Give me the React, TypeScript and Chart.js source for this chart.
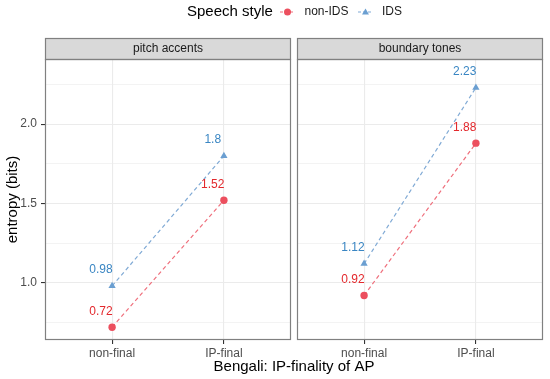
import React, { useEffect, useRef } from 'react';
import { Chart, registerables } from 'chart.js';

Chart.register(...registerables);

const FONT = '"Liberation Sans", Arial, Helvetica, sans-serif';

const categories = ['non-final', 'IP-final'];
const facetLabels = ['pitch accents', 'boundary tones'];
const seriesNames = ['non-IDS', 'IDS'];
const legendTitle = 'Speech style';
const xTitle = 'Bengali: IP-finality of AP';
const yTitle = 'entropy (bits)';

const pitchNonIDS = [0.72, 1.52];
const pitchIDS = [0.98, 1.8];
const boundaryNonIDS = [0.92, 1.88];
const boundaryIDS = [1.12, 2.23];

const yMajorTicks = [1.0, 1.5, 2.0];
const yMinorTicks = [0.75, 1.25, 1.75, 2.25];
const yMin = 0.6395;
const yMax = 2.4105;
const xMin = -0.6;
const xMax = 1.6;

const W = 550;
const H = 379;

const RED_TEXT = '#E3282C';
const BLUE_TEXT = '#3A86C3';
const RED_PT = '#EC4F5E';
const BLUE_PT = '#6B9FD1';
const RED_LINE = '#EF6F7C';
const BLUE_LINE = '#80AAD5';
const textColors = [RED_TEXT, BLUE_TEXT];
const BORDER = '#808080';

function drawTriangle(ctx: CanvasRenderingContext2D, x: number, y: number, r: number) {
  ctx.beginPath();
  let rad = 0;
  ctx.moveTo(x + Math.sin(rad) * r, y - Math.cos(rad) * r);
  rad += (2 * Math.PI) / 3;
  ctx.lineTo(x + Math.sin(rad) * r, y - Math.cos(rad) * r);
  rad += (2 * Math.PI) / 3;
  ctx.lineTo(x + Math.sin(rad) * r, y - Math.cos(rad) * r);
  ctx.closePath();
  ctx.fill();
}

function makeConfig(facet: number, nonIDS: number[], ids: number[], first: boolean): any {
  const allY = [...yMinorTicks, ...yMajorTicks].sort((a, b) => a - b);
  const panelPlugin = {
    id: 'panel' + facet,
    afterDatasetsDraw(chart: any) {
      const ctx = chart.ctx as CanvasRenderingContext2D;
      const xs = chart.scales.x;
      const ys = chart.scales.y;
      ctx.save();
      ctx.font = `12px ${FONT}`;
      ctx.textAlign = 'center';
      ctx.textBaseline = 'middle';
      chart.data.datasets.forEach((ds: any, di: number) => {
        ctx.fillStyle = textColors[di];
        ds.data.forEach((p: any) => {
          ctx.fillText(String(p.y), xs.getPixelForValue(p.x - 0.1), ys.getPixelForValue(p.y + 0.1));
        });
      });
      ctx.restore();
    },
    afterDraw(chart: any) {
      const ctx = chart.ctx as CanvasRenderingContext2D;
      const a = chart.chartArea;
      ctx.save();
      // strip
      const stripTop = 38;
      ctx.fillStyle = '#D9D9D9';
      ctx.fillRect(a.left, stripTop, a.right - a.left, a.top - stripTop);
      ctx.strokeStyle = BORDER;
      ctx.lineWidth = 1.2;
      ctx.strokeRect(a.left + 0.5, stripTop + 0.5, a.right - a.left - 1, a.top - stripTop);
      ctx.fillStyle = '#1A1A1A';
      ctx.font = `12px ${FONT}`;
      ctx.textAlign = 'center';
      ctx.textBaseline = 'middle';
      ctx.fillText(facetLabels[facet], (a.left + a.right) / 2, (stripTop + a.top) / 2 + 0.5);
      // panel border
      ctx.strokeRect(a.left + 0.5, a.top + 0.5, a.right - a.left - 1, a.bottom - a.top - 1);

      if (first) {
        // legend
        ctx.fillStyle = '#000';
        ctx.textAlign = 'left';
        ctx.font = `15px ${FONT}`;
        ctx.fillText(legendTitle, 187, 12);
        ctx.font = `12px ${FONT}`;
        // non-IDS key
        ctx.setLineDash([3, 2]);
        ctx.lineWidth = 1.1;
        ctx.strokeStyle = RED_LINE;
        ctx.beginPath();
        ctx.moveTo(280, 12);
        ctx.lineTo(295, 12);
        ctx.stroke();
        ctx.fillStyle = RED_PT;
        ctx.beginPath();
        ctx.arc(287.5, 12, 3.5, 0, Math.PI * 2);
        ctx.fill();
        ctx.fillStyle = '#1A1A1A';
        ctx.fillText(seriesNames[0], 304.5, 12);
        // IDS key
        ctx.strokeStyle = BLUE_LINE;
        ctx.beginPath();
        ctx.moveTo(358, 12);
        ctx.lineTo(373, 12);
        ctx.stroke();
        ctx.setLineDash([]);
        ctx.fillStyle = BLUE_PT;
        drawTriangle(ctx, 365.5, 12.5, 4);
        ctx.fillStyle = '#1A1A1A';
        ctx.fillText(seriesNames[1], 382, 12);
        // axis titles
        ctx.fillStyle = '#000';
        ctx.font = `15px ${FONT}`;
        ctx.textAlign = 'center';
        ctx.fillText(xTitle, 294, 367);
        ctx.save();
        ctx.translate(13, 199.5);
        ctx.rotate(-Math.PI / 2);
        ctx.fillText(yTitle, 0, 0);
        ctx.restore();
      }
      ctx.restore();
    },
  };

  const mk = (vals: number[]) => vals.map((v, i) => ({ x: i, y: v }));

  return {
    type: 'line',
    data: {
      datasets: [
        {
          label: seriesNames[0],
          data: mk(nonIDS),
          borderColor: RED_LINE,
          borderWidth: 1.2,
          borderDash: [4, 3],
          pointStyle: 'circle',
          pointRadius: 3.7,
          pointBackgroundColor: RED_PT,
          pointBorderWidth: 0,
          fill: false,
        },
        {
          label: seriesNames[1],
          data: mk(ids),
          borderColor: BLUE_LINE,
          borderWidth: 1.2,
          borderDash: [4, 3],
          pointStyle: 'triangle',
          pointRadius: 4.2,
          pointBackgroundColor: BLUE_PT,
          pointBorderWidth: 0,
          fill: false,
        },
      ],
    },
    options: {
      animation: false,
      responsive: false,
      events: [],
      layout: {
        padding: first
          ? { top: 59, left: 0, right: W - 291, bottom: 0 }
          : { top: 59, left: 297, right: W - 543, bottom: 0 },
      },
      plugins: { legend: { display: false }, tooltip: { enabled: false } },
      scales: {
        x: {
          type: 'linear',
          min: xMin,
          max: xMax,
          afterBuildTicks: (s: any) => {
            s.ticks = categories.map((_, i) => ({ value: i }));
          },
          afterFit: (s: any) => {
            s.height = H - 340;
          },
          ticks: {
            autoSkip: false,
            maxRotation: 0,
            padding: 2,
            color: '#4D4D4D',
            font: { family: FONT, size: 12 },
            callback: (_v: any, i: number) => categories[i],
          },
          grid: { color: '#EBEBEB', lineWidth: 1.1, tickColor: '#333333', tickLength: 4 },
          border: { display: false },
        },
        y: {
          type: 'linear',
          min: yMin,
          max: yMax,
          afterBuildTicks: (s: any) => {
            s.ticks = allY.map((v) => ({ value: v }));
          },
          afterFit: (s: any) => {
            s.width = first ? 45 : 0;
          },
          ticks: {
            display: first,
            padding: 4,
            color: '#4D4D4D',
            font: { family: FONT, size: 12 },
            callback: (_v: any, i: number, t: any[]) =>
              yMajorTicks.includes(t[i].value) ? t[i].value.toFixed(1) : '',
          },
          grid: {
            color: '#EBEBEB',
            lineWidth: (c: any) => (c.tick && yMajorTicks.includes(c.tick.value) ? 1.1 : 0.6),
            tickColor: (c: any) => (c.tick && yMajorTicks.includes(c.tick.value) ? '#333333' : 'rgba(0,0,0,0)'),
            tickLength: 4,
            drawTicks: first,
          },
          border: { display: false },
        },
      },
    },
    plugins: [panelPlugin],
  };
}

export default function App() {
  const ref1 = useRef<HTMLCanvasElement>(null);
  const ref2 = useRef<HTMLCanvasElement>(null);
  useEffect(() => {
    document.body.style.margin = '0';
    const c1 = new Chart(ref1.current!, makeConfig(0, pitchNonIDS, pitchIDS, true));
    const c2 = new Chart(ref2.current!, makeConfig(1, boundaryNonIDS, boundaryIDS, false));
    return () => {
      c1.destroy();
      c2.destroy();
    };
  }, []);
  const st: React.CSSProperties = { position: 'absolute', left: 0, top: 0, width: W, height: H };
  return (
    <div style={{ position: 'relative', width: W, height: H, background: '#fff' }}>
      <canvas ref={ref1} width={W} height={H} style={st} />
      <canvas ref={ref2} width={W} height={H} style={st} />
    </div>
  );
}
